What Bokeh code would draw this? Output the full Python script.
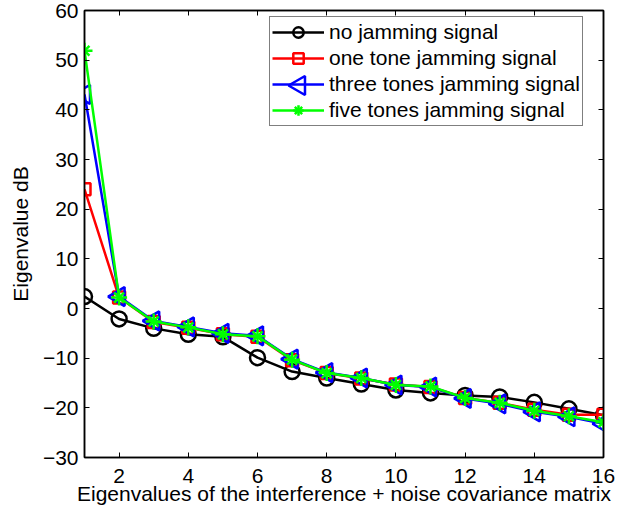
import math
from bokeh.plotting import figure
from bokeh.models import Range1d, FixedTicker, LinearAxis, Legend, LegendItem
from bokeh.embed import file_html
from bokeh.resources import INLINE

# ---- data ----
eig_index = list(range(1, 17))
no_jamming = [2.4, -2.1, -4.0, -5.2, -5.7, -9.9, -12.7, -14.0, -15.2, -16.4, -17.0, -17.5, -17.8, -18.9, -20.2, -21.5]
one_tone = [24.0, 2.2, -2.7, -3.9, -5.2, -5.7, -10.4, -13.0, -14.1, -15.3, -15.8, -18.0, -19.0, -20.4, -21.4, -21.4]
three_tones = [43.1, 2.4, -2.5, -3.7, -5.0, -5.5, -10.2, -12.9, -14.0, -15.4, -15.8, -18.1, -19.2, -20.8, -21.8, -23.2]
five_tones = [51.9, 2.2, -2.6, -3.8, -5.2, -5.6, -10.3, -13.0, -14.0, -15.4, -15.7, -18.0, -19.0, -20.6, -21.7, -22.9]

x_ticks = [2, 4, 6, 8, 10, 12, 14, 16]
y_ticks = [-30, -20, -10, 0, 10, 20, 30, 40, 50, 60]
y_tick_labels = {t: ("\u2212" + str(abs(t)) if t < 0 else str(t)) for t in y_ticks}

series_names = ["no jamming signal", "one tone jamming signal",
                "three tones jamming signal", "five tones jamming signal"]

FONT = "Liberation Sans"
FS = "21px"

W, H = 637, 512
BL, BR, BT, BB = 84, 34, 10, 55
X0, X1, Y0, Y1 = 1, 16, -30, 60

p = figure(width=W, height=H, output_backend="svg", toolbar_location=None,
           x_range=Range1d(X0, X1), y_range=Range1d(Y0, Y1),
           min_border_left=BL, min_border_right=BR, min_border_top=BT, min_border_bottom=BB)
p.xgrid.visible = False
p.ygrid.visible = False
p.outline_line_color = "black"
p.outline_line_width = 1.5
p.background_fill_color = "white"
p.border_fill_color = "white"

xa = p.below[0]
ya = p.left[0]
for ax in (xa, ya):
    ax.major_tick_in = 5
    ax.major_tick_out = 0
    ax.minor_tick_line_color = None
    ax.axis_line_width = 1.5
    ax.major_tick_line_width = 1
    ax.major_label_text_font = FONT
    ax.major_label_text_font_size = FS
    ax.major_label_text_color = "black"
    ax.axis_label_text_font = FONT
    ax.axis_label_text_font_size = FS
    ax.axis_label_text_font_style = "normal"
    ax.axis_label_text_color = "black"
xa.ticker = FixedTicker(ticks=x_ticks)
ya.ticker = FixedTicker(ticks=y_ticks)
ya.major_label_overrides = y_tick_labels
xa.axis_label = "Eigenvalues of the interference + noise covariance matrix"
ya.axis_label = "Eigenvalue dB"
xa.major_label_standoff = 11
xa.axis_label_standoff = -4
ya.major_label_standoff = 6
ya.axis_label_standoff = 8

# box ticks on top and right (no labels)
top_ax = LinearAxis(ticker=FixedTicker(ticks=x_ticks), major_tick_in=5, major_tick_out=0,
                    minor_tick_line_color=None, major_label_text_font_size="1px",
                    major_label_text_color=None, major_label_standoff=0, axis_line_width=1.5)
right_ax = LinearAxis(ticker=FixedTicker(ticks=y_ticks), major_tick_in=5, major_tick_out=0,
                      minor_tick_line_color=None, major_label_text_font_size="1px",
                      major_label_text_color=None, major_label_standoff=0, axis_line_width=1.5)
p.add_layout(top_ax, "above")
p.add_layout(right_ax, "right")

LW = 2.5
items = []

# no jamming: black circles
l0 = p.line(eig_index, no_jamming, line_color="black", line_width=LW)
m0 = p.scatter(eig_index, no_jamming, marker="circle", size=15, fill_color=None,
               line_color="black", line_width=LW)
items.append(LegendItem(label=series_names[0], renderers=[l0, m0]))

# one tone: red squares
l1 = p.line(eig_index, one_tone, line_color="#ff0000", line_width=LW)
m1 = p.scatter(eig_index, one_tone, marker="square", size=12, fill_color=None,
               line_color="#ff0000", line_width=LW)
items.append(LegendItem(label=series_names[1], renderers=[l1, m1]))

# three tones: blue left-pointing triangles
l2 = p.line(eig_index, three_tones, line_color="#0000ff", line_width=LW)
m2 = p.scatter(eig_index, three_tones, marker="triangle", size=19, angle=90, angle_units="deg",
               fill_color=None, line_color="#0000ff", line_width=LW)
items.append(LegendItem(label=series_names[2], renderers=[l2]))

# five tones: green asterisks
l3 = p.line(eig_index, five_tones, line_color="#00ff00", line_width=LW)
m3a = p.scatter(eig_index, five_tones, marker="cross", size=16, line_color="#00ff00", line_width=2.5)
m3b = p.scatter(eig_index, five_tones, marker="x", size=14, line_color="#00ff00", line_width=2.5)
items.append(LegendItem(label=series_names[3], renderers=[l3, m3a, m3b]))

LEG_X, LEG_Y = 185, 331          # legend bottom-left, screen px from frame bottom-left
PAD, GW, ROW = 2, 52, 26
legend = Legend(items=items, location=(LEG_X, LEG_Y))
legend.label_text_font = FONT
legend.label_text_font_size = FS
legend.label_text_color = "black"
legend.glyph_width = GW
legend.glyph_height = ROW
legend.label_height = ROW
legend.label_standoff = 5
legend.spacing = 0
legend.padding = PAD
legend.margin = 0
legend.border_line_color = "black"
legend.border_line_width = 1
legend.background_fill_alpha = 0.0   # transparent: the (empty, white) plot area shows through
p.add_layout(legend, "center")

# left-pointing triangle symbol for the "three tones" legend entry
# (Bokeh legend glyphs ignore marker angle); position derived from the legend layout
fw = W - BL - BR
fh = H - BT - BB
leg_sx = LEG_X + PAD + GW / 2 + 2
leg_sy = LEG_Y + PAD + ROW * 1.5
leg_tri = p.scatter([X0 + leg_sx / fw * (X1 - X0)], [Y0 + leg_sy / fh * (Y1 - Y0)],
                    marker="triangle", size=19, angle=90, angle_units="deg",
                    fill_color=None, line_color="#0000ff", line_width=LW)

open("out.html", "w").write(file_html(p, INLINE))
